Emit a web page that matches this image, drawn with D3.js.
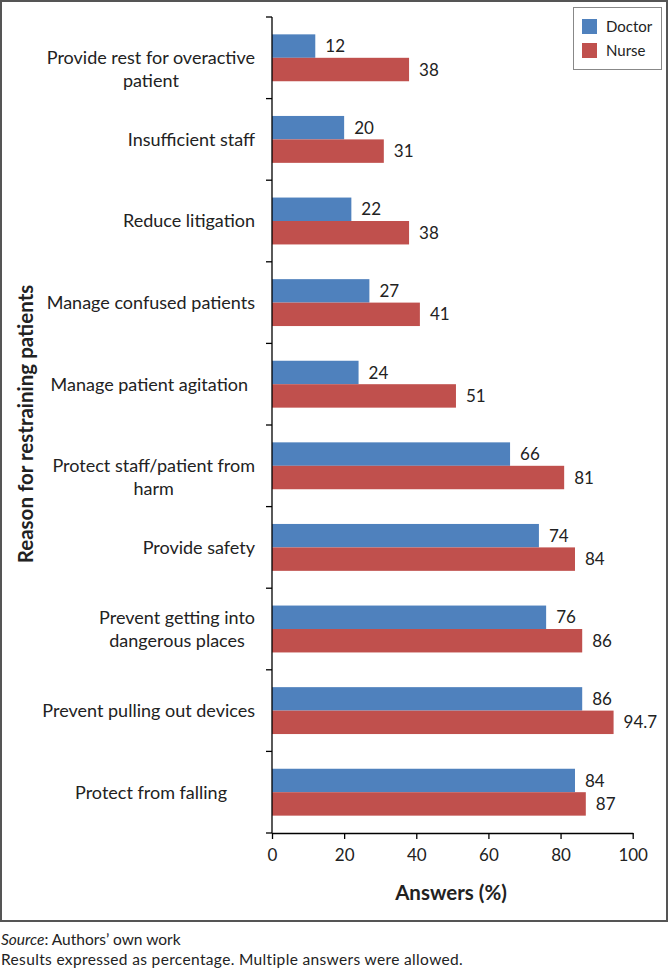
<!DOCTYPE html>
<html>
<head>
<meta charset="utf-8">
<script src="https://cdn.jsdelivr.net/npm/d3@7"></script>
<style>
  body { margin: 0; background: #fff; }
  svg { display: block; font-family: Lato, "Open Sans", sans-serif; }
</style>
</head>
<body>
<div id="chart"></div>
<script>
// data (top to bottom)
var categories = [
    "Provide rest for overactive\npatient",
    "Insufficient staff",
    "Reduce litigation",
    "Manage confused patients",
    "Manage patient agitation",
    "Protect staff/patient from\nharm",
    "Provide safety",
    "Prevent getting into\ndangerous places",
    "Prevent pulling out devices",
    "Protect from falling"
];
var series = ["Doctor", "Nurse"];
var doctorValues = [12, 20, 22, 27, 24, 66, 74, 76, 86, 84];
var nurseValues = [38, 31, 38, 41, 51, 81, 84, 86, 94.7, 87];
var xTicks = [0, 20, 40, 60, 80, 100];

var colors = { "Doctor": "#4f81bd", "Nurse": "#c0504d" };
var textColor = "#222";

var W = 670, H = 970;
var plot = { left: 272, right: 632.7, top: 17, bottom: 833 };

var svg = d3.select("#chart").append("svg")
    .attr("width", W).attr("height", H);

// outer frame
svg.append("rect")
    .attr("x", 1).attr("y", 1).attr("width", 666).attr("height", 920)
    .attr("fill", "none").attr("stroke", "#555").attr("stroke-width", 2);

var x = d3.scaleLinear().domain([0, 100]).range([plot.left, plot.right]);
var y = d3.scaleBand().domain(categories).range([plot.top, plot.bottom]).padding(0);
var ySub = d3.scaleBand().domain(series).range([0, y.bandwidth()])
    .paddingInner(0).paddingOuter(0.74);

var rows = categories.map(function (c, i) {
    return { cat: c, vals: [
        { s: "Doctor", v: doctorValues[i] },
        { s: "Nurse", v: nurseValues[i] }
    ] };
});

// bars
var g = svg.selectAll("g.row").data(rows).enter().append("g")
    .attr("class", "row")
    .attr("transform", function (d) { return "translate(0," + y(d.cat) + ")"; });

g.selectAll("rect").data(function (d) { return d.vals; }).enter().append("rect")
    .attr("x", x(0))
    .attr("y", function (d) { return ySub(d.s); })
    .attr("width", function (d) { return x(d.v) - x(0); })
    .attr("height", ySub.bandwidth())
    .attr("fill", function (d) { return colors[d.s]; });

g.selectAll("text.val").data(function (d) { return d.vals; }).enter().append("text")
    .attr("class", "val")
    .attr("x", function (d) { return x(d.v) + 10; })
    .attr("y", function (d) { return ySub(d.s) + ySub.bandwidth() / 2; })
    .attr("dy", "0.36em")
    .attr("font-size", 17)
    .attr("fill", textColor)
    .text(function (d) { return d.v; });

// x axis
var xAxis = svg.append("g")
    .attr("transform", "translate(0," + plot.bottom + ")")
    .call(d3.axisBottom(x).tickValues(xTicks).tickSize(6).tickSizeOuter(0).tickPadding(10));
xAxis.select(".domain").attr("stroke", "#000").attr("stroke-width", 1.3);
xAxis.selectAll(".tick line").attr("stroke", "#000").attr("stroke-width", 1.3);
xAxis.selectAll("text").attr("font-size", 17).attr("fill", textColor)
    .attr("font-family", "Lato, sans-serif");

// y axis: line with ticks at category boundaries
var yLine = svg.append("g");
yLine.append("line")
    .attr("x1", x(0)).attr("x2", x(0))
    .attr("y1", plot.top).attr("y2", plot.bottom)
    .attr("stroke", "#000").attr("stroke-width", 1.3);
var bounds = categories.map(function (c) { return y(c); }).concat([plot.bottom]);
yLine.selectAll("line.tk").data(bounds).enter().append("line")
    .attr("class", "tk")
    .attr("x1", x(0) - 6).attr("x2", x(0))
    .attr("y1", function (d) { return d; }).attr("y2", function (d) { return d; })
    .attr("stroke", "#000").attr("stroke-width", 1.3);

// category labels
var labelEdge = { "Protect from falling": 227, "Manage patient agitation": 248 };
var labelDown = { 0: 11.5, 5: 11.5 };
var lineH = 23;
categories.forEach(function (c, k) {
    var lines = c.split("\n");
    var cy = y(c) + y.bandwidth() / 2 + (labelDown[k] || 0);
    var t = svg.append("text")
        .attr("font-size", 18).attr("fill", textColor)
        .attr("text-anchor", "middle");
    var spans = lines.map(function (ln, i) {
        return t.append("tspan")
            .attr("y", cy + (i - (lines.length - 1) / 2) * lineH)
            .attr("dy", "0.36em")
            .text(ln);
    });
    var maxW = d3.max(spans, function (s) { return s.node().getComputedTextLength(); });
    var edge = labelEdge[c] || 255;
    spans.forEach(function (s) { s.attr("x", edge - maxW / 2); });
});

// axis titles
svg.append("text")
    .attr("x", 451).attr("y", 900)
    .attr("text-anchor", "middle")
    .attr("font-size", 20.5).attr("font-weight", "bold").attr("fill", textColor)
    .text("Answers (%)");

svg.append("text")
    .attr("transform", "translate(33,424) rotate(-90)")
    .attr("text-anchor", "middle")
    .attr("font-size", 20.5).attr("font-weight", "bold").attr("fill", textColor)
    .text("Reason for restraining patients");

// legend
var legend = svg.append("g");
legend.append("rect")
    .attr("x", 573.5).attr("y", 7.5).attr("width", 88).attr("height", 62)
    .attr("fill", "#fff").attr("stroke", "#888").attr("stroke-width", 1);
var li = legend.selectAll("g.li").data(series).enter().append("g")
    .attr("class", "li")
    .attr("transform", function (d, i) { return "translate(582," + (19 + i * 24) + ")"; });
li.append("rect").attr("width", 15).attr("height", 15)
    .attr("fill", function (d) { return colors[d]; });
li.append("text")
    .attr("x", 24).attr("y", 7.5).attr("dy", "0.36em")
    .attr("font-size", 15).attr("fill", textColor)
    .text(function (d) { return d; });

// notes
var src = svg.append("text")
    .attr("x", 1).attr("y", 945)
    .attr("font-size", 15.5).attr("fill", textColor);
src.append("tspan").attr("font-style", "italic").text("Source");
src.append("tspan").text(": Authors\u2019 own work");

svg.append("text")
    .attr("x", 1).attr("y", 965)
    .attr("font-size", 15.5).attr("letter-spacing", 0.35).attr("fill", textColor)
    .text("Results expressed as percentage. Multiple answers were allowed.");
</script>
</body>
</html>
